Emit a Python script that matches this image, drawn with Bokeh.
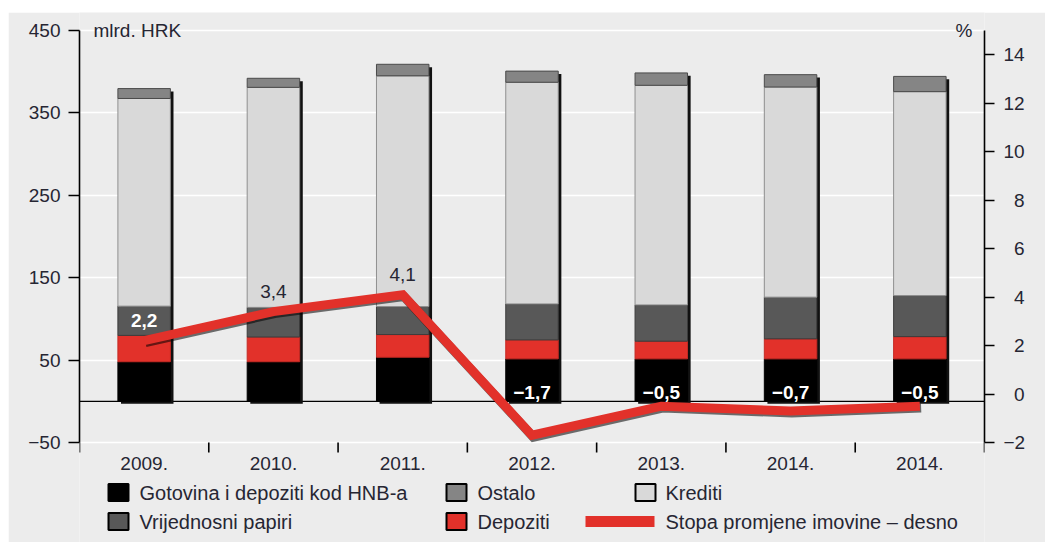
from bokeh.plotting import figure
from bokeh.models import Range1d, LinearAxis, FixedTicker, Span, Label, ColumnDataSource, Spacer
from bokeh.layouts import column, row
from bokeh.transform import dodge
from bokeh.core.properties import value
from bokeh.embed import file_html
from bokeh.resources import INLINE

# ---------------- data ----------------
years = ["2009.", "2010.", "2011.", "2012.", "2013.", "2014.", "2014."]
gotovina = [48, 48, 53.5, 51.5, 51.5, 51.5, 51.5]          # Gotovina i depoziti kod HNB-a
depoziti = [32, 30, 27.5, 23, 21.5, 24.3, 27]               # Depoziti
vrijednosni = [35.5, 36, 34, 43.7, 44, 50.6, 49.8]          # Vrijednosni papiri
krediti = [252, 267, 280, 269, 266.5, 255, 247.5]           # Krediti
ostalo = [12, 11, 14, 13.5, 15, 15, 18.5]                   # Ostalo
stopa = [2.2, 3.4, 4.1, -1.7, -0.5, -0.7, -0.5]             # Stopa promjene imovine (desno, %)
stopa_labels = ["2,2", "3,4", "4,1", "\u22121,7", "\u22120,5", "\u22120,7", "\u22120,5"]

left_ticks = [-50, 50, 150, 250, 350, 450]
right_ticks = [-2, 0, 2, 4, 6, 8, 10, 12, 14]

series_names = ["Gotovina i depoziti kod HNB-a", "Depoziti", "Vrijednosni papiri", "Krediti", "Ostalo"]
line_name = "Stopa promjene imovine \u2013 desno"

# ---------------- style ----------------
BG = "#ececec"
TXT = "#262633"
FONT = "Liberation Sans"
RED = "#e2312a"
fills = ["#000000", RED, "#585858", "#d9d9d9", "#858585"]
edges = ["#000000", "#c42a24", "#3c3c3c", "#8f8f8f", "#4a4a4a"]
label_colors = ["white", TXT, TXT, "white", "white", "white", "white"]
label_styles = ["bold", "normal", "normal", "bold", "bold", "bold", "bold"]

W, H = 1045, 542
TOPW, LEFTW = 12, 8             # white strips above / left of the chart
FL, FR = 79, 984                # frame left/right on page
FT, FB = TOPW, H                # frame spans to page bottom (legend drawn inside)
AX_TOP, AX_BOT = 30, 442        # page y of 450 / -50 (left) and 15 / -2 (right)
n = len(years)
xs = [i + 0.5 for i in range(n)]
totals = [sum(t) for t in zip(gotovina, depoziti, vrijednosni, krediti, ostalo)]
BW = 0.406

ppu_l = (AX_BOT - AX_TOP) / 500.0
ppu_r = (AX_BOT - AX_TOP) / 17.0
yl_top = 450 + (AX_TOP - FT) / ppu_l
yl_bot = -50 - (FB - AX_BOT) / ppu_l
yr_top = 15 + (AX_TOP - FT) / ppu_r
yr_bot = -2 - (FB - AX_BOT) / ppu_r

src = ColumnDataSource(dict(
    x=xs, got=gotovina, dep=depoziti, vrij=vrijednosni, kred=krediti, ost=ostalo,
    top_sh=[t - 3.5 for t in totals], bot_sh=[-3.0] * n,
))

p = figure(width=W - LEFTW, height=H - TOPW, x_range=Range1d(0, n), y_range=Range1d(yl_bot, yl_top),
           output_backend="svg", toolbar_location=None,
           min_border_left=FL - LEFTW, min_border_right=W - FR, min_border_top=0, min_border_bottom=0,
           background_fill_color=BG, border_fill_color=BG, outline_line_color=None,
           x_axis_type=None)
p.extra_y_ranges = {"right": Range1d(yr_bot, yr_top), "py": Range1d(FB, FT)}
p.extra_x_ranges = {"px": Range1d(FL, FR)}

# grid
p.ygrid.ticker = FixedTicker(ticks=left_ticks)
p.ygrid.grid_line_color = "white"
p.ygrid.grid_line_width = 1.6
for g in p.xgrid:
    g.visible = False

# left axis
yl = p.yaxis[0]
yl.ticker = FixedTicker(ticks=left_ticks)
yl.bounds = (-50, 450)
yl.major_label_overrides = {t: (str(t).replace("-", "\u2212")) for t in left_ticks}
yl.major_tick_out = 11
yl.major_tick_in = 0
yl.minor_tick_line_color = None
yl.major_label_standoff = 8
yl.axis_line_color = "black"
yl.axis_line_width = 1.6
yl.major_tick_line_width = 1.6
yl.major_label_text_font = FONT
yl.major_label_text_font_size = "19px"
yl.major_label_text_color = TXT

# right axis
def rlabel(t):
    s = str(t).replace("-", "\u2212")
    return s if len(s) > 1 else "\u2007" + s

yr = LinearAxis(y_range_name="right", ticker=FixedTicker(ticks=right_ticks), bounds=(-2, 15),
                major_label_overrides={t: rlabel(t) for t in right_ticks},
                major_tick_out=10, major_tick_in=0, minor_tick_line_color=None,
                major_label_standoff=9, axis_line_color="black", axis_line_width=1.6,
                major_tick_line_width=1.6, major_label_text_font=FONT,
                major_label_text_font_size="19px", major_label_text_color=TXT)
p.add_layout(yr, "right")

# category axis (drawn in page-pixel y coordinates): boundary ticks + labels
bounds_x = list(range(n + 1))
p.segment(x0=bounds_x, x1=bounds_x, y0=[AX_BOT] * len(bounds_x), y1=[AX_BOT + 10] * len(bounds_x),
          y_range_name="py", line_color="black", line_width=1.6)
p.text(x=xs, y=[AX_BOT + 21] * n, text=years, y_range_name="py", text_color=TXT,
       text_font=value(FONT), text_font_size="19px", text_align="center", text_baseline="middle")

# zero line
p.add_layout(Span(location=0, dimension="width", line_color="black", line_width=1.3, level="underlay"))

# bar shadows
p.vbar(x=dodge("x", 0.024), width=BW, top="top_sh", bottom="bot_sh", source=src,
       fill_color="#111111", line_color=None)
# stacked bars
p.vbar_stack(["got", "dep", "vrij", "kred", "ost"], x="x", width=BW, source=src,
             fill_color=fills, line_color=edges, line_width=1)

# rate line (shadow + line)
p.line([x + 0.01 for x in xs], [v - 0.08 for v in stopa], y_range_name="right",
       line_color="#000000", line_alpha=0.55, line_width=9, line_join="miter")
p.line(xs, stopa, y_range_name="right", line_color=RED, line_width=9, line_join="miter")

# value labels
label_y = [v + 0.82 if v >= 0 else 0.08 for v in stopa]
p.text(x=xs, y=label_y, text=stopa_labels, y_range_name="right",
       text_color=label_colors, text_font=value(FONT), text_font_style=label_styles,
       text_font_size="19px", text_align="center", text_baseline="middle")

# unit labels
p.add_layout(Label(x=0.108, y=450, text="mlrd. HRK", text_baseline="middle", text_align="left",
                   text_font=FONT, text_font_size="19px", text_color=TXT))
p.add_layout(Label(x=n - 0.093, y=450, text="%", text_baseline="middle", text_align="right",
                   text_font=FONT, text_font_size="19px", text_color=TXT))

# ---------------- legend (page-pixel coordinates) ----------------
col_sq = [108, 446, 635]
col_tx = [139, 477, 665]
row_y = [492, 521]
# row1: Gotovina, Ostalo, Krediti ; row2: Vrijednosni, Depoziti, line
sq_items = [(0, 0, 0), (1, 0, 4), (2, 0, 3), (0, 1, 2), (1, 1, 1)]
for c, r, si in sq_items:
    p.rect(x=[col_sq[c] + 10], y=[row_y[r]], width=20, height=17, x_range_name="px", y_range_name="py",
           fill_color=fills[si], line_color="black", line_width=2)
    p.text(x=[col_tx[c]], y=[row_y[r]], text=[series_names[si]], x_range_name="px", y_range_name="py",
           text_color=TXT, text_font=value(FONT), text_font_size="20px",
           text_baseline="middle", text_align="left")
p.segment(x0=[585], y0=[row_y[1]], x1=[col_sq[2] + 19], y1=[row_y[1]], x_range_name="px", y_range_name="py",
          line_color=RED, line_width=11)
p.text(x=[col_tx[2]], y=[row_y[1]], text=[line_name], x_range_name="px", y_range_name="py",
       text_color=TXT, text_font=value(FONT), text_font_size="20px",
       text_baseline="middle", text_align="left")

layout = column(Spacer(width=W, height=TOPW), row(Spacer(width=LEFTW, height=H - TOPW), p, spacing=0), spacing=0)
open("out.html", "w").write(file_html(layout, INLINE))
